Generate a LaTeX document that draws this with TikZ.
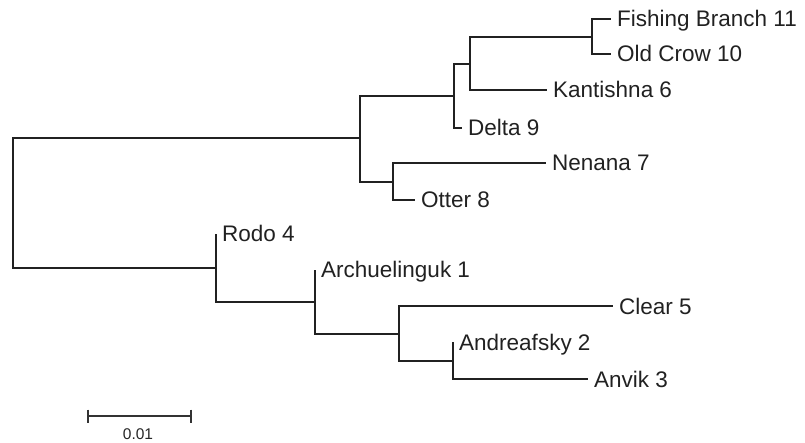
\documentclass[tikz,border=0pt]{standalone}
\usepackage{fontspec}
\setmainfont{Liberation Sans}
\begin{document}
\begin{tikzpicture}[x=1pt,y=-1pt,
  br/.style={line width=2pt, draw=black!87},
  sbar/.style={line width=1.4pt, draw=black!80},
  lab/.style={anchor=base west, inner sep=0pt, xshift=6pt, yshift=-8pt,
    font=\fontsize{22.5}{26}\selectfont, text=black!87}]
\useasboundingbox (0,0) rectangle (805,443);
% internal nodes
\coordinate (root) at (13,203);
\coordinate (A) at (360,138);
\coordinate (B) at (454,96);
\coordinate (C) at (470,64);
\coordinate (D) at (592,37);
\coordinate (E) at (393,182);
\coordinate (F) at (216,268);
\coordinate (G) at (315,302);
\coordinate (H) at (399,334);
\coordinate (I) at (453,361);
% leaves
\coordinate (fb) at (611,19);
\coordinate (oc) at (611,54);
\coordinate (ka) at (547,90);
\coordinate (de) at (462,128);
\coordinate (ne) at (546,163);
\coordinate (ot) at (415,200);
\coordinate (ro) at (216,234);
\coordinate (ar) at (315,270);
\coordinate (cl) at (613,306);
\coordinate (an) at (453,342);
\coordinate (av) at (588,379);
% branches
\draw[br] (root) |- (A);
\draw[br] (root) |- (F);
\draw[br] (A) |- (B);
\draw[br] (A) |- (E);
\draw[br] (B) |- (C);
\draw[br] (B) |- (de);
\draw[br] (C) |- (D);
\draw[br] (C) |- (ka);
\draw[br] (D) |- (fb);
\draw[br] (D) |- (oc);
\draw[br] (E) |- (ne);
\draw[br] (E) |- (ot);
\draw[br] (F) |- (ro);
\draw[br] (F) |- (G);
\draw[br] (G) |- (ar);
\draw[br] (G) |- (H);
\draw[br] (H) |- (cl);
\draw[br] (H) |- (I);
\draw[br] (I) |- (an);
\draw[br] (I) |- (av);
% labels
\node[lab] (lfb) at (fb) {Fishing Branch 11};
\node[lab] (loc) at (oc) {Old Crow 10};
\node[lab] (lka) at (ka) {Kantishna 6};
\node[lab] (lde) at (de) {Delta 9};
\node[lab] (lne) at (ne) {Nenana 7};
\node[lab] (lot) at (ot) {Otter 8};
\node[lab] (lro) at (ro) {Rodo 4};
\node[lab] (lar) at (ar) {Archuelinguk 1};
\node[lab] (lcl) at (cl) {Clear 5};
\node[lab] (lan) at (an) {Andreafsky 2};
\node[lab] (lav) at (av) {Anvik 3};
% scale bar
\coordinate (s1) at (88,416);
\coordinate (s2) at (191,416);
\draw[sbar] (s1) -- (s2);
\draw[sbar] ([yshift=6.5pt]s1) -- ([yshift=-6.5pt]s1);
\draw[sbar] ([yshift=6.5pt]s2) -- ([yshift=-6.5pt]s2);
\node[anchor=base, inner sep=0pt, font=\fontsize{15.5}{18}\selectfont, text=black!85] (sl) at (138,439) {0.01};
\end{tikzpicture}
\end{document}
